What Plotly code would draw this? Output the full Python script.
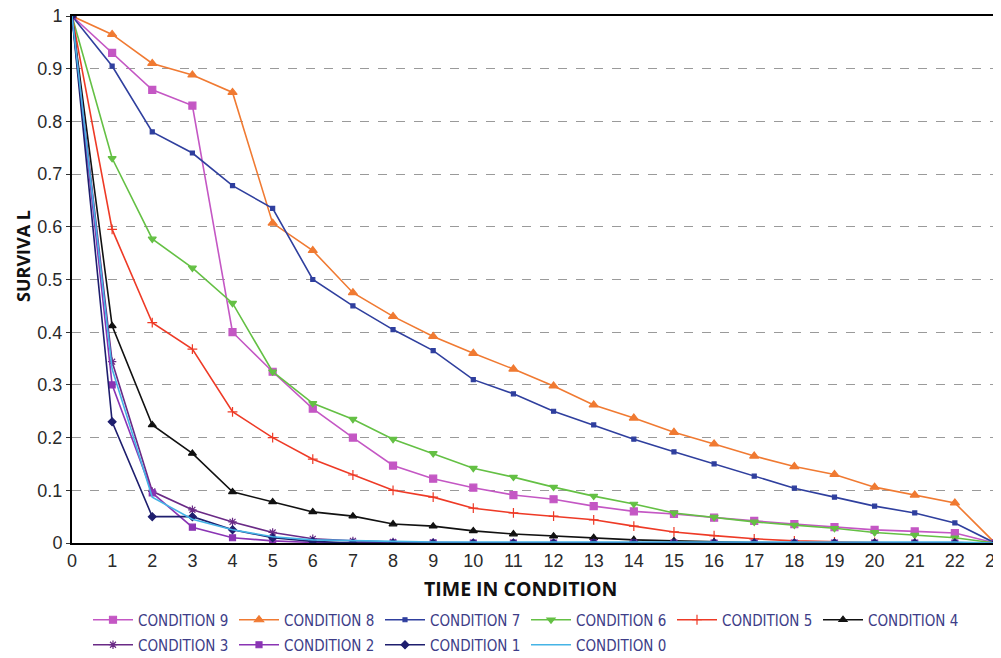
import plotly.graph_objects as go

time = list(range(24))

cond9 = [1, 0.93, 0.86, 0.83, 0.40, 0.325, 0.255, 0.20, 0.147, 0.122, 0.105, 0.091, 0.083, 0.07, 0.06, 0.055,
         0.048, 0.042, 0.036, 0.03, 0.025, 0.022, 0.019, 0]
cond8 = [1, 0.965, 0.91, 0.888, 0.855, 0.607, 0.555, 0.475, 0.43, 0.392, 0.36, 0.33, 0.298, 0.262, 0.237, 0.21,
         0.188, 0.165, 0.145, 0.13, 0.106, 0.091, 0.076, 0]
cond7 = [1, 0.905, 0.78, 0.74, 0.678, 0.635, 0.50, 0.45, 0.405, 0.365, 0.31, 0.283, 0.25, 0.224, 0.197, 0.173,
         0.15, 0.127, 0.104, 0.087, 0.07, 0.057, 0.038, 0]
cond6 = [1, 0.73, 0.577, 0.522, 0.455, 0.325, 0.265, 0.235, 0.197, 0.17, 0.142, 0.125, 0.106, 0.089, 0.074, 0.057,
         0.049, 0.04, 0.034, 0.028, 0.02, 0.015, 0.01, 0]
cond5 = [1, 0.595, 0.418, 0.368, 0.249, 0.20, 0.159, 0.129, 0.10, 0.087, 0.066, 0.057, 0.051, 0.044, 0.032, 0.021,
         0.014, 0.008, 0.004, 0.002, 0.001, 0, 0, 0]
cond4 = [1, 0.412, 0.224, 0.17, 0.097, 0.078, 0.059, 0.051, 0.036, 0.032, 0.023, 0.017, 0.013, 0.01, 0.006, 0.004,
         0.002, 0.001, 0, 0, 0, 0, 0, 0]
cond3 = [1, 0.344, 0.098, 0.063, 0.04, 0.02, 0.008, 0.004, 0.002, 0.001, 0, 0, 0, 0, 0, 0,
         0, 0, 0, 0, 0, 0, 0, 0]
cond2 = [1, 0.30, 0.095, 0.03, 0.01, 0.004, 0.001, 0, 0, 0, 0, 0, 0, 0, 0, 0,
         0, 0, 0, 0, 0, 0, 0, 0]
cond1 = [1, 0.23, 0.05, 0.05, 0.025, 0.01, 0.003, 0, 0, 0, 0, 0, 0, 0, 0, 0,
         0, 0, 0, 0, 0, 0, 0, 0]
cond0 = [1, 0.33, 0.087, 0.045, 0.025, 0.012, 0.006, 0.004, 0.003, 0.002, 0.002, 0.002, 0.002, 0.002, 0.002, 0.002,
         0.002, 0.002, 0.002, 0.002, 0.002, 0.002, 0.002, 0]

y_ticks = [0, 0.1, 0.2, 0.3, 0.4, 0.5, 0.6, 0.7, 0.8, 0.9, 1]
y_ticktext = ["0", "0.1", "0.2", "0.3", "0.4", "0.5", "0.6", "0.7", "0.8", "0.9", "1"]

names = ["CONDITION 9", "CONDITION 8", "CONDITION 7", "CONDITION 6", "CONDITION 5",
         "CONDITION 4", "CONDITION 3", "CONDITION 2", "CONDITION 1", "CONDITION 0"]
series = [cond9, cond8, cond7, cond6, cond5, cond4, cond3, cond2, cond1, cond0]
colors = ["#c457c4", "#f07a32", "#2f3f9e", "#64c044", "#ee3a26", "#111111",
          "#6a2a86", "#8a34b4", "#1e1e6e", "#45b4e6"]
symbols = ["square", "triangle-up", "square", "triangle-down", "cross-thin-open", "triangle-up",
           "asterisk-open", "square", "diamond", "circle"]
sizes = [7, 8, 4, 7, 7, 7, 7, 6, 6, 0]
legend_ids = ["legend"] * 6 + ["legend2"] * 4

fig = go.Figure()
for n, s, c, sym, sz, lg in zip(names, series, colors, symbols, sizes, legend_ids):
    fig.add_trace(go.Scatter(
        x=time, y=s, name=n, mode="lines+markers" if sz else "lines",
        line=dict(color=c, width=1.6),
        marker=dict(symbol=sym, size=sz, color=c, line=dict(color=c, width=1.2)),
        legend=lg,
    ))

# page body has an 8px margin, so the figure is sized/offset to place the plot at 72..995 x 16..543
PLOT_L, PLOT_B, PLOT_W, PLOT_H = 72, 543, 923, 527

legend_font = dict(family="DejaVu Sans Condensed, Liberation Sans, sans-serif", size=15, color="#3d3d88")
common_legend = dict(
    orientation="h", x=(88 - PLOT_L) / PLOT_W, xanchor="left", yanchor="middle",
    entrywidth=91, entrywidthmode="pixels", itemwidth=40,
    font=legend_font, bgcolor="rgba(255,255,255,0)", borderwidth=0,
)

tick_font = dict(family="Liberation Sans, Arial, sans-serif", size=18, color="#2a2a2a")
title_font = dict(family="Open Sans, sans-serif", size=19.5, color="#111")

fig.update_layout(
    width=993, height=650,
    margin=dict(l=64, r=6, t=8, b=115, autoexpand=False),
    paper_bgcolor="white", plot_bgcolor="white",
    showlegend=True,
    legend=dict(common_legend, y=(PLOT_B - 620) / PLOT_H),
    legend2=dict(common_legend, y=(PLOT_B - 645) / PLOT_H),
    xaxis=dict(
        range=[0, 23], tickmode="array", tickvals=time, ticktext=[str(t) for t in time],
        showgrid=False, zeroline=False, showline=True, linecolor="black", linewidth=2, mirror=True,
        ticks="", tickfont=tick_font, automargin=False, ticklabeloverflow="allow",
    ),
    yaxis=dict(
        range=[0, 1], tickmode="array", tickvals=y_ticks, ticktext=y_ticktext,
        showgrid=True, gridcolor="#9a9a9a", griddash="dash", gridwidth=1.2,
        zeroline=False, showline=True, linecolor="black", linewidth=2, mirror=True,
        ticks="outside", ticklen=4, tickcolor="#333", tickfont=tick_font, automargin=False,
        ticklabeloverflow="allow",
    ),
    annotations=[
        dict(text="<b>TIME IN CONDITION</b>", xref="paper", yref="paper",
             x=(520 - PLOT_L) / PLOT_W, y=(PLOT_B - 588) / PLOT_H, xanchor="center", yanchor="middle",
             showarrow=False, font=title_font),
        dict(text="<b>SURVIVA L</b>", xref="paper", yref="paper", textangle=-90,
             x=(23 - PLOT_L) / PLOT_W, y=(PLOT_B - 256) / PLOT_H, xanchor="center", yanchor="middle",
             showarrow=False, font=dict(title_font, size=18)),
    ],
)

fig.write_html("out.html")
